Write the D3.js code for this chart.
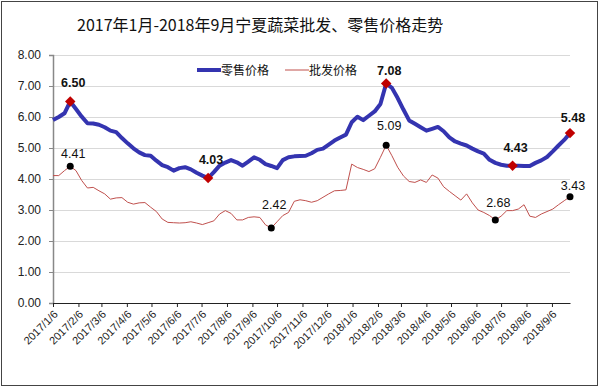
<!DOCTYPE html>
<html>
<head>
<meta charset="utf-8">
<script src="https://cdn.jsdelivr.net/npm/d3@7"></script>
<style>
  body { margin: 0; background: #fff; }
  text { font-family: "Liberation Sans", Arial, sans-serif; }
  .title { font-family: "Noto Sans CJK SC", sans-serif; }
  .legend text { font-family: "Noto Sans CJK SC", sans-serif; }
</style>
</head>
<body>
<div class="chart"></div>
<script>
// weekly prices, first week 2017/1/6
var firstWeek = "2017/1/6";
var retail = [5.90, 6.00, 6.12, 6.50, 6.26, 6.01, 5.80, 5.79, 5.75, 5.67,
  5.56, 5.51, 5.32, 5.15, 4.99, 4.86, 4.77, 4.75, 4.59, 4.45,
  4.38, 4.27, 4.35, 4.38, 4.31, 4.20, 4.11, 4.03, 4.22, 4.43,
  4.53, 4.61, 4.54, 4.43, 4.56, 4.70, 4.62, 4.48, 4.42, 4.35,
  4.61, 4.70, 4.73, 4.74, 4.75, 4.83, 4.94, 4.98, 5.11, 5.24,
  5.34, 5.43, 5.83, 6.01, 5.90, 6.04, 6.18, 6.42, 7.08, 6.94,
  6.61, 6.24, 5.89, 5.78, 5.67, 5.56, 5.62, 5.68, 5.54, 5.34,
  5.21, 5.14, 5.08, 4.98, 4.89, 4.82, 4.62, 4.52, 4.46, 4.43,
  4.43, 4.43, 4.42, 4.42, 4.52, 4.60, 4.71, 4.89, 5.08, 5.26,
  5.48];
var wholesale = [4.11, 4.11, 4.27, 4.41, 4.27, 3.95, 3.71, 3.73, 3.62, 3.52,
  3.35, 3.39, 3.40, 3.25, 3.19, 3.23, 3.24, 3.09, 2.95, 2.71,
  2.60, 2.59, 2.58, 2.59, 2.62, 2.58, 2.53, 2.59, 2.65, 2.87,
  2.98, 2.89, 2.68, 2.68, 2.76, 2.78, 2.76, 2.52, 2.42, 2.62,
  2.82, 2.92, 3.28, 3.33, 3.30, 3.25, 3.30, 3.41, 3.52, 3.62,
  3.63, 3.65, 4.48, 4.37, 4.31, 4.24, 4.33, 4.70, 5.09, 4.75,
  4.38, 4.10, 3.92, 3.89, 3.97, 3.89, 4.13, 4.03, 3.75, 3.60,
  3.46, 3.32, 3.52, 3.23, 3.00, 2.92, 2.82, 2.68, 2.80, 2.98,
  2.98, 3.03, 3.17, 2.80, 2.76, 2.87, 2.95, 3.03, 3.17, 3.30,
  3.43];
// indexes of the labelled points
var retailMarks = [3, 27, 58, 80, 90];
var wholesaleMarks = [3, 38, 58, 77, 90];
var seriesNames = ["零售价格", "批发价格"];
var tickLabels = ["2017/1/6", "2017/2/6", "2017/3/6", "2017/4/6", "2017/5/6", "2017/6/6",
  "2017/7/6", "2017/8/6", "2017/9/6", "2017/10/6", "2017/11/6", "2017/12/6",
  "2018/1/6", "2018/2/6", "2018/3/6", "2018/4/6", "2018/5/6", "2018/6/6",
  "2018/7/6", "2018/8/6", "2018/9/6"];
var yTicks = [0, 1, 2, 3, 4, 5, 6, 7, 8];
var titleText = "2017年1月-2018年9月宁夏蔬菜批发、零售价格走势";

// label lift above each marker (px), as placed in the original
var retailLabelDy = [-14.5, -14.5, -8.5, -13.5, -11.5];
var wholesaleLabelDy = [-8.5, -18.5, -15.5, -12.5, -6.5];

var svgWidth = 600;
var svgHeight = 388;
var margin = { top: 55, right: 30, bottom: 85, left: 53 };
var width = svgWidth - margin.left - margin.right;
var height = svgHeight - margin.top - margin.bottom;

var parseDate = d3.timeParse("%Y/%m/%d");
var start = parseDate(firstWeek);
var dates = retail.map(function(d, i) { return d3.timeDay.offset(start, i * 7); });
var tickDates = tickLabels.map(parseDate);

var svg = d3.select(".chart")
  .append("svg")
  .attr("width", svgWidth)
  .attr("height", svgHeight);

svg.append("rect")
  .attr("x", 1.5).attr("y", 1.5)
  .attr("width", 596).attr("height", 384)
  .attr("fill", "#fff")
  .attr("stroke", "#444");

svg.append("text")
  .attr("class", "title")
  .attr("x", 77)
  .attr("y", 31)
  .attr("font-size", 16)
  .attr("fill", "#111")
  .text(titleText);

var chart = svg.append("g")
  .attr("transform", "translate(" + margin.left + "," + margin.top + ")");

var xTimeScale = d3.scaleTime()
  .domain([dates[0], dates[dates.length - 1]])
  .range([0, width]);
var yLinearScale = d3.scaleLinear()
  .domain([0, 8])
  .range([height, 0]);

// gridlines
chart.append("g")
  .selectAll("line")
  .data(yTicks.slice(1))
  .enter().append("line")
  .attr("x1", 0).attr("x2", width)
  .attr("y1", function(d) { return Math.round(yLinearScale(d)) + 0.5; })
  .attr("y2", function(d) { return Math.round(yLinearScale(d)) + 0.5; })
  .attr("stroke", "#d9d9d9");

// y axis
var leftAxis = d3.axisLeft(yLinearScale)
  .tickValues(yTicks)
  .tickSize(4)
  .tickPadding(8)
  .tickFormat(d3.format(".2f"));
var yAxisG = chart.append("g").call(leftAxis);
yAxisG.select(".domain").attr("stroke", "#888").attr("stroke-width", 1.5);
yAxisG.selectAll(".tick line").attr("stroke", "#888");
yAxisG.selectAll("text").attr("font-size", 12).attr("fill", "#222")
  .attr("font-family", "Liberation Sans, Arial, sans-serif");

// x axis
var bottomAxis = d3.axisBottom(xTimeScale)
  .tickValues(tickDates)
  .tickSize(4)
  .tickSizeOuter(0)
  .tickFormat(function(d, i) { return tickLabels[i]; });
var xAxisG = chart.append("g")
  .attr("transform", "translate(0," + height + ")")
  .call(bottomAxis);
xAxisG.select(".domain").attr("stroke", "#222");
xAxisG.selectAll(".tick line").attr("stroke", "#222");
xAxisG.selectAll("text")
  .attr("x", 0).attr("y", 0).attr("dy", 0)
  .attr("transform", "translate(5,12) rotate(-45)")
  .style("text-anchor", "end")
  .attr("font-size", 11)
  .attr("fill", "#222")
  .attr("font-family", "Liberation Sans, Arial, sans-serif");

// lines
var line = d3.line()
  .x(function(d, i) { return xTimeScale(dates[i]); })
  .y(function(d) { return yLinearScale(d); });

chart.append("path")
  .datum(wholesale)
  .attr("fill", "none")
  .attr("stroke", "#c0504d")
  .attr("stroke-width", 1)
  .attr("d", line);

chart.append("path")
  .datum(retail)
  .attr("fill", "none")
  .attr("stroke", "#3434b0")
  .attr("stroke-width", 4)
  .attr("stroke-linejoin", "round")
  .attr("d", line);

// wholesale markers
chart.selectAll("circle.wm")
  .data(wholesaleMarks)
  .enter().append("circle")
  .attr("class", "wm")
  .attr("cx", function(i) { return xTimeScale(dates[i]); })
  .attr("cy", function(i) { return yLinearScale(wholesale[i]); })
  .attr("r", 3.5)
  .attr("fill", "#000");

chart.selectAll("text.wl")
  .data(wholesaleMarks)
  .enter().append("text")
  .attr("class", "wl")
  .attr("x", function(i) { return xTimeScale(dates[i]) + 3; })
  .attr("y", function(i, k) { return yLinearScale(wholesale[i]) + wholesaleLabelDy[k]; })
  .attr("text-anchor", "middle")
  .attr("font-size", 12.5)
  .attr("fill", "#111")
  .text(function(i) { return wholesale[i].toFixed(2); });

// retail markers
chart.selectAll("path.rm")
  .data(retailMarks)
  .enter().append("path")
  .attr("class", "rm")
  .attr("d", d3.symbol().type(d3.symbolDiamond2).size(70))
  .attr("transform", function(i) {
    return "translate(" + xTimeScale(dates[i]) + "," + yLinearScale(retail[i]) + ")";
  })
  .attr("fill", "#c00000");

chart.selectAll("text.rl")
  .data(retailMarks)
  .enter().append("text")
  .attr("class", "rl")
  .attr("x", function(i) { return xTimeScale(dates[i]) + 3; })
  .attr("y", function(i, k) { return yLinearScale(retail[i]) + retailLabelDy[k]; })
  .attr("text-anchor", "middle")
  .attr("font-size", 12.5)
  .attr("font-weight", "bold")
  .attr("fill", "#111")
  .text(function(i) { return retail[i].toFixed(2); });

// legend
var legend = svg.append("g").attr("class", "legend");
var legendItems = [
  { name: seriesNames[0], x: 197, color: "#3434b0", w: 4 },
  { name: seriesNames[1], x: 285, color: "#c0504d", w: 1 }
];
legendItems.forEach(function(d) {
  legend.append("line")
    .attr("x1", d.x).attr("x2", d.x + 24)
    .attr("y1", 70).attr("y2", 70)
    .attr("stroke", d.color)
    .attr("stroke-width", d.w);
  legend.append("text")
    .attr("x", d.x + 24)
    .attr("y", 74.5)
    .attr("font-size", 12)
    .attr("fill", "#111")
    .text(d.name);
});
</script>
</body>
</html>
